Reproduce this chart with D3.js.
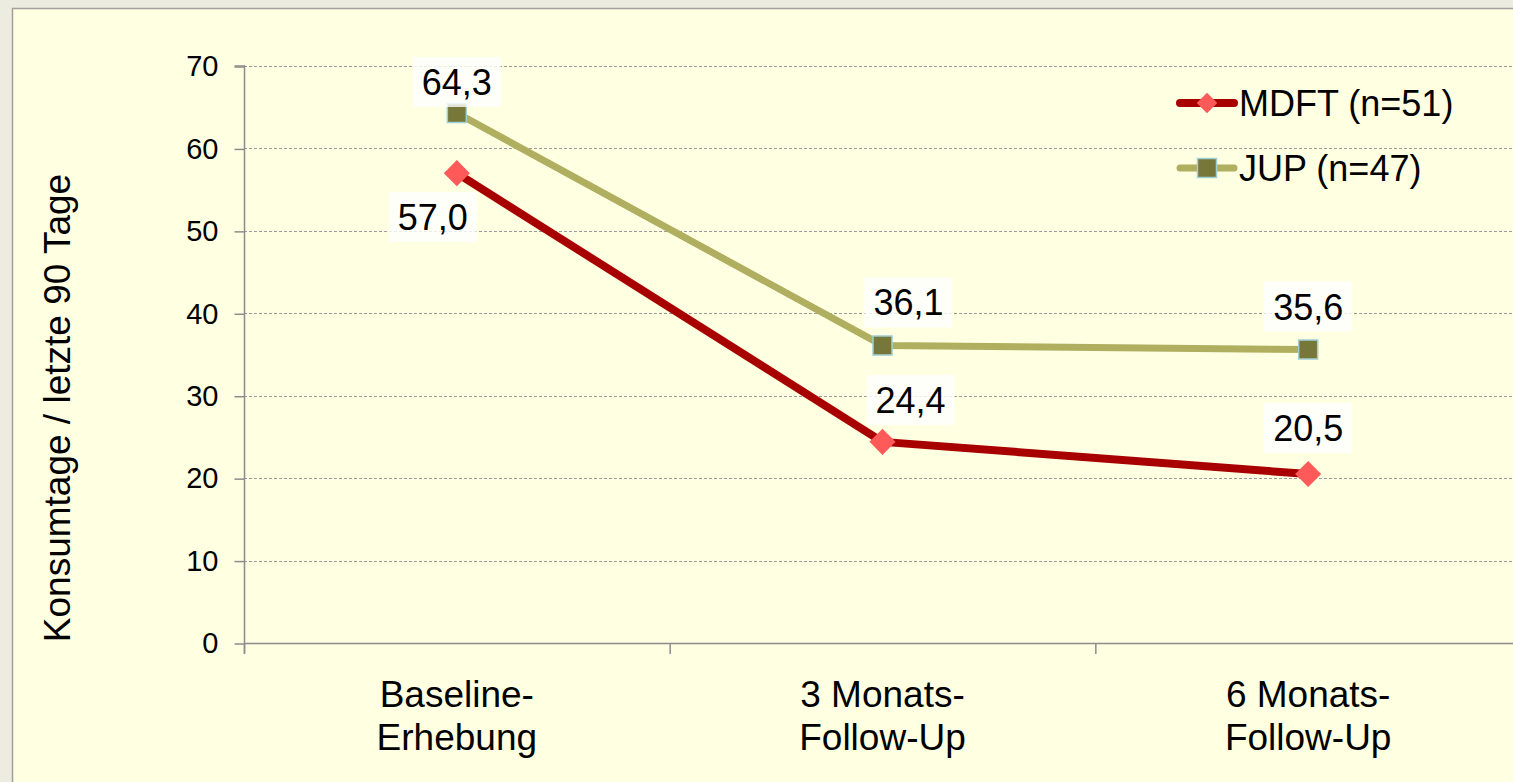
<!DOCTYPE html>
<html>
<head>
<meta charset="utf-8">
<script src="https://cdn.jsdelivr.net/npm/d3@7"></script>
<style>
  html, body { margin: 0; padding: 0; background: #ECECE1; overflow: hidden; }
  svg { display: block; font-family: "Liberation Sans", Arial, sans-serif; }
</style>
</head>
<body>
<svg id="chart" width="1513" height="782"></svg>
<script>
// ---- data ----
const categories = [["Baseline-", "Erhebung"], ["3 Monats-", "Follow-Up"], ["6 Monats-", "Follow-Up"]];
const seriesNames = ["MDFT (n=51)", "JUP (n=47)"];
const mdftValues = [57.0, 24.4, 20.5];
const jupValues = [64.3, 36.1, 35.6];
const yTicks = [0, 10, 20, 30, 40, 50, 60, 70];
const yLabel = "Konsumtage / letzte 90 Tage";

// ---- label placement (px offsets of data labels from their markers) ----
const mdftLabelOffsets = [[-24, 44], [28, -42], [0, -46]];
const jupLabelOffsets = [[0, -31], [26, -43], [0, -43]];

const svg = d3.select("#chart");
const W = 1513, H = 782;

// chart area background + frame
svg.append("rect").attr("x", 0).attr("y", 0).attr("width", W).attr("height", H).attr("fill", "#ECECE1");
svg.append("rect").attr("x", 12.5).attr("y", 8.5).attr("width", 1600).attr("height", 900)
  .attr("fill", "#FFFFE2").attr("stroke", "#A0A0A0").attr("stroke-width", 1.5);

const x = d3.scaleBand().domain(d3.range(categories.length)).range([244, 1521]).paddingInner(0).paddingOuter(0);
const y = d3.scaleLinear().domain([0, 70]).range([643, 66]);
const cx = i => x(i) + x.bandwidth() / 2;

// gridlines
svg.append("g").selectAll("line").data(yTicks.filter(d => d > 0)).join("line")
  .attr("x1", 244).attr("x2", W).attr("y1", d => Math.round(y(d)) + 0.5).attr("y2", d => Math.round(y(d)) + 0.5)
  .attr("stroke", "#9A9A9A").attr("stroke-width", 1).attr("stroke-dasharray", "3,2");

// y axis
const yAxis = d3.axisLeft(y).tickValues(yTicks).tickSize(10).tickPadding(16).tickFormat(d3.format("d"));
const gy = svg.append("g").attr("transform", "translate(244.5,0.5)").call(yAxis);
gy.select(".domain").attr("stroke", "#8C8C8C").attr("stroke-width", 1.5).attr("d", "M-10,65.5H0V653");
gy.selectAll(".tick line").attr("stroke", "#8C8C8C").attr("stroke-width", 1.5);
gy.selectAll(".tick text").attr("font-size", 29).attr("fill", "#000").attr("font-family", "Liberation Sans, Arial, sans-serif");

// x axis
const gx = svg.append("g");
gx.append("line").attr("x1", 244).attr("x2", W).attr("y1", 643.5).attr("y2", 643.5)
  .attr("stroke", "#8C8C8C").attr("stroke-width", 1.5);
gx.selectAll("line.tk").data(d3.range(categories.length + 1)).join("line").attr("class", "tk")
  .attr("x1", i => i < categories.length ? x(i) + 0.5 : x(i - 1) + x.bandwidth() + 0.5)
  .attr("x2", i => i < categories.length ? x(i) + 0.5 : x(i - 1) + x.bandwidth() + 0.5)
  .attr("y1", 643).attr("y2", 654).attr("stroke", "#8C8C8C").attr("stroke-width", 1.5);

const catText = gx.selectAll("text.cat").data(categories).join("text").attr("class", "cat")
  .attr("text-anchor", "middle").attr("font-size", 37).attr("fill", "#000");
catText.each(function(d, i) {
  const t = d3.select(this);
  d.forEach((line, k) => {
    t.append("tspan").attr("x", cx(i)).attr("y", 707 + k * 43).text(line);
  });
});

// y label
svg.append("text").attr("transform", "translate(70,408) rotate(-90)")
  .attr("text-anchor", "middle").attr("font-size", 37).attr("fill", "#000").text(yLabel);

// lines
const lineGen = d3.line().x((d, i) => cx(i)).y(d => y(d));
svg.append("path").datum(jupValues).attr("d", lineGen).attr("fill", "none")
  .attr("stroke", "#B0AE5F").attr("stroke-width", 7).attr("stroke-linejoin", "round");
svg.append("path").datum(mdftValues).attr("d", lineGen).attr("fill", "none")
  .attr("stroke", "#A80000").attr("stroke-width", 8).attr("stroke-linejoin", "round");

// markers
const diamond = d3.symbol().type(d3.symbolSquare).size(340);
const square = d3.symbol().type(d3.symbolSquare).size(361);
const smallDiamond = d3.symbol().type(d3.symbolSquare).size(210);

svg.append("g").selectAll("path").data(jupValues).join("path")
  .attr("d", square).attr("transform", (d, i) => `translate(${cx(i)},${y(d)})`)
  .attr("fill", "#77773A").attr("stroke", "#9FCFD6").attr("stroke-width", 1.5);
svg.append("g").selectAll("path").data(mdftValues).join("path")
  .attr("d", diamond).attr("transform", (d, i) => `translate(${cx(i)},${y(d)}) rotate(45)`)
  .attr("fill", "#FF5A5A");

// data labels
const fmt = v => d3.format(".1f")(v).replace(".", ",");
function drawLabels(values, offsets) {
  const g = svg.append("g").selectAll("g").data(values).join("g")
    .attr("transform", (d, i) => `translate(${cx(i) + offsets[i][0]},${y(d) + offsets[i][1]})`);
  g.append("rect").attr("x", -44).attr("y", -25).attr("width", 88).attr("height", 50)
    .attr("fill", "#FFFFFF").attr("fill-opacity", 0.8);
  g.append("text").attr("text-anchor", "middle").attr("y", 13).attr("font-size", 36)
    .attr("fill", "#000").text(d => fmt(d));
}
drawLabels(jupValues, jupLabelOffsets);
drawLabels(mdftValues, mdftLabelOffsets);

// legend
const legend = svg.append("g");
const legendItems = [
  { name: seriesNames[0], color: "#A80000", width: 8, y: 103, marker: "diamond" },
  { name: seriesNames[1], color: "#B0AE5F", width: 7, y: 168, marker: "square" }
];
legendItems.forEach(it => {
  legend.append("line").attr("x1", 1180).attr("x2", 1234).attr("y1", it.y).attr("y2", it.y)
    .attr("stroke", it.color).attr("stroke-width", it.width).attr("stroke-linecap", "round");
  if (it.marker === "diamond") {
    legend.append("path").attr("d", smallDiamond).attr("transform", `translate(1207,${it.y}) rotate(45)`)
      .attr("fill", "#FF5A5A");
  } else {
    legend.append("path").attr("d", square).attr("transform", `translate(1207,${it.y})`)
      .attr("fill", "#77773A").attr("stroke", "#9FCFD6").attr("stroke-width", 1.5);
  }
  legend.append("text").attr("x", 1239).attr("y", it.y + 13).attr("font-size", 36)
    .attr("fill", "#000").text(it.name);
});
</script>
</body>
</html>
